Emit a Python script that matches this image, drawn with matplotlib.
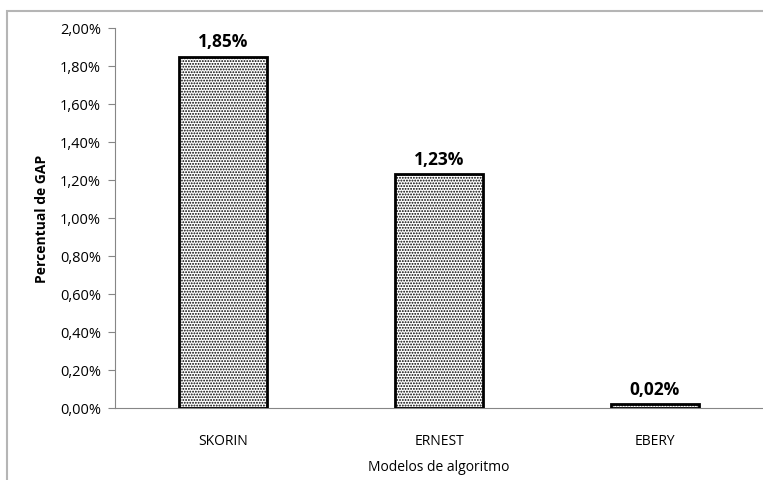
import matplotlib.pyplot as plt
from matplotlib.patches import Rectangle
from matplotlib.ticker import FuncFormatter
import matplotlib as mpl

categories = ['SKORIN', 'ERNEST', 'EBERY']
gap_values = [1.85, 1.23, 0.02]
y_ticks = [0.0, 0.2, 0.4, 0.6, 0.8, 1.0, 1.2, 1.4, 1.6, 1.8, 2.0]

plt.rcParams['font.family'] = ['Open Sans', 'DejaVu Sans']
mpl.rcParams['hatch.linewidth'] = 0.9

fig = plt.figure(figsize=(7.63, 4.81), dpi=100)
ax = fig.add_axes([115 / 763, 72 / 481, 1 - 115 / 763, 380 / 481])

x = range(len(categories))
ax.bar(x, gap_values, width=0.41, color='white', edgecolor='black',
       linewidth=2, hatch='......', zorder=3)

for xi, v in zip(x, gap_values):
    label = f'{v:.2f}%'.replace('.', ',')
    ax.text(xi, v + 0.035, label, ha='center', va='bottom',
            fontsize=12.5, fontweight='bold')

ax.set_xlim(-0.5, len(categories) - 0.5)
ax.set_ylim(0, 2.0)
ax.set_yticks(y_ticks)
ax.yaxis.set_major_formatter(FuncFormatter(lambda v, _: f'{v:.2f}%'.replace('.', ',')))
ax.set_xticks(list(x))
ax.set_xticklabels(categories)

for side in ['top', 'right']:
    ax.spines[side].set_visible(False)
for side in ['left', 'bottom']:
    ax.spines[side].set_color('#868686')
ax.tick_params(axis='y', length=5, color='#868686', labelsize=10.5, pad=5)
ax.tick_params(axis='x', length=0, labelsize=10, pad=18)

ax.set_ylabel('Percentual de GAP', fontsize=10, fontweight='bold', labelpad=8)
ax.set_xlabel('Modelos de algoritmo', fontsize=10, labelpad=8)

# outer chart frame
fig.patches.append(Rectangle((7 / 763, -0.1), 1.2, 1.1 - 12 / 481,
                             transform=fig.transFigure, fill=False,
                             edgecolor='#b5b5b5', linewidth=1.5))

fig.savefig('out.png', dpi=100)
